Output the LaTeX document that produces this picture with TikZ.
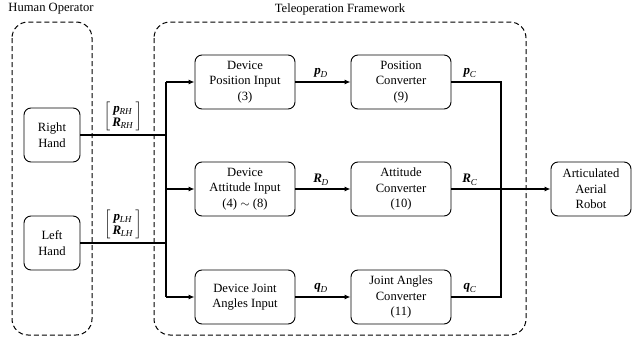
\documentclass[tikz,border=0pt]{standalone}
\usepackage{fontspec}
\usepackage{amsmath}
\setmainfont{Liberation Serif}
\usetikzlibrary{arrows.meta}
\newcommand{\vv}[2]{\textbf{\textit{#1}}\textsubscript{\kern-0.3pt\raisebox{-1pt}{\textit{#2}}}}
\tikzset{
  blk/.style={draw,rounded corners=7pt,line width=0.9pt,minimum width=100pt,minimum height=54pt,align=center,font=\fontsize{12.6}{15.5}\selectfont,inner sep=1pt},
  grp/.style={draw,rounded corners=16pt,line width=1pt,dash pattern=on 5pt off 3pt},
  conn/.style={line width=1.5pt},
  arr/.style={line width=1.5pt,-{Latex[length=6pt,width=5pt]}},
  lbl/.style={font=\fontsize{13}{15}\selectfont,inner sep=0pt},
  ttl/.style={font=\fontsize{12.6}{15}\selectfont,inner sep=0pt}
}
\begin{document}
\begin{tikzpicture}[x=1pt,y=-1pt]
\useasboundingbox (0,0) rectangle (633,340);
% groups
\draw[grp] (12,22) rectangle (92,335);
\draw[grp] (154,22) rectangle (526,335);
\node[ttl] (t1) at (51,9) {Human Operator};
\node[ttl] (t2) at (340,9) {Teleoperation Framework};
% hands
\node[blk,minimum width=56pt] (rh) at (52,135) {Right\\Hand};
\node[blk,minimum width=56pt] (lh) at (52,243) {Left\\Hand};
% inputs
\node[blk] (dpi) at (245,82) {Device\\Position Input\\(3)};
\node[blk] (dai) at (245,189) {Device\\Attitude Input\\(4) $\sim$ (8)};
\node[blk] (dji) at (245,297) {Device Joint\\Angles Input};
% converters
\node[blk] (pc) at (401,82) {Position\\Converter\\(9)};
\node[blk] (ac) at (401,189) {Attitude\\Converter\\(10)};
\node[blk] (jc) at (401,297) {Joint Angles\\Converter\\(11)};
% robot
\node[blk,minimum width=80pt] (rob) at (591,189) {Articulated\\Aerial\\Robot};
% trunk coordinates
\coordinate (tt) at (166,82);
\coordinate (tm) at (166,189);
\coordinate (tb) at (166,297);
\coordinate (tr) at (166,135);
\coordinate (tl) at (166,243);
\coordinate (ot) at (501,82);
\coordinate (om) at (501,189);
\coordinate (ob) at (501,297);
% left connectors
\draw[conn] (rh.east) -- (tr);
\draw[conn] (lh.east) -- (tl);
\draw[conn] (tt) -- (tb);
\draw[arr] (tt) -- (dpi.west);
\draw[arr] (tm) -- (dai.west);
\draw[arr] (tb) -- (dji.west);
% middle
\draw[arr] (dpi.east) -- (pc.west);
\draw[arr] (dai.east) -- (ac.west);
\draw[arr] (dji.east) -- (jc.west);
% right
\draw[conn] (pc.east) -- (ot) -- (ob) -- (jc.east);
\draw[conn] (ac.east) -- (om);
\draw[arr] (om) -- (rob.west);
% labels
\node[lbl] (lrh) at (123,116) {$\left[\begin{array}{@{\,}c@{\,}}\text{\vv{p}{RH}}\\[-1pt]\text{\vv{R}{RH}}\end{array}\right]$};
\node[lbl] (llh) at (123,224) {$\left[\begin{array}{@{\,}c@{\,}}\text{\vv{p}{LH}}\\[-1pt]\text{\vv{R}{LH}}\end{array}\right]$};
\node[lbl] (lpd) at (321,73) {\vv{p}{D}};
\node[lbl] (lrd) at (321,180) {\vv{R}{D}};
\node[lbl] (lqd) at (321,288) {\vv{q}{D}};
\node[lbl] (lpc) at (470,73) {\vv{p}{C}};
\node[lbl] (lrc) at (470,180) {\vv{R}{C}};
\node[lbl] (lqc) at (470,288) {\vv{q}{C}};
\end{tikzpicture}
\end{document}
